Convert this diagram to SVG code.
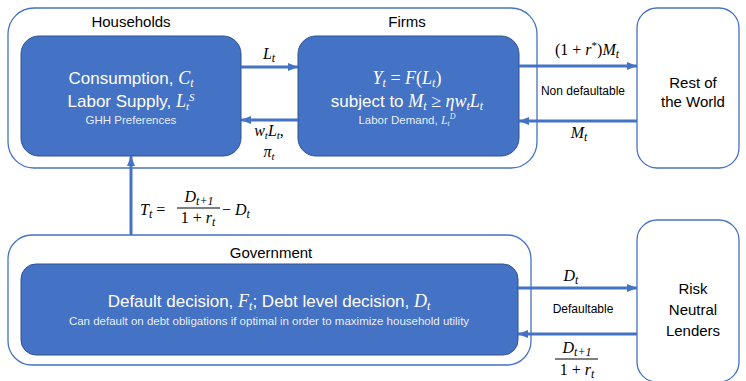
<svg xmlns="http://www.w3.org/2000/svg" width="746" height="381" viewBox="0 0 746 381">
<defs>
<style>
.outer{fill:#fff;stroke:#4472C4;stroke-width:1.3}
.inner{fill:#4472C4;stroke:#2F528F;stroke-width:1}
.conn{stroke:#4472C4;stroke-width:3;fill:none}
.t{font-family:"Liberation Sans",Arial,sans-serif;fill:#000}
.w{font-family:"Liberation Sans",Arial,sans-serif;fill:#fff}
.m{font-family:"Liberation Serif","Times New Roman",serif;font-style:italic}
.n{font-family:"Liberation Serif","Times New Roman",serif;font-style:normal}
</style>
<marker id="ah" markerWidth="10" markerHeight="8" refX="10" refY="4" orient="auto" markerUnits="userSpaceOnUse">
<path d="M0,0 L10,4 L0,8 z" fill="#4472C4"/>
</marker>
</defs>
<rect width="746" height="381" fill="#fff"/>

<g id="households-firms-outer">
<rect class="outer" x="8" y="8" width="529" height="160" rx="26"/>
</g>
<g id="households">
<text class="t" x="131" y="27" font-size="15" text-anchor="middle">Households</text>
<rect class="inner" x="21" y="36" width="220" height="120" rx="18"/>
<text class="w" x="131" y="84" font-size="17" text-anchor="middle">Consumption, <tspan class="m" font-size="18">C</tspan><tspan class="m" font-size="12" dy="3">t</tspan></text>
<text class="w" x="131" y="107" font-size="17" text-anchor="middle">Labor Supply, <tspan class="m" font-size="18">L</tspan><tspan class="m" font-size="11" dy="3">t</tspan><tspan class="m" font-size="11" dy="-9">S</tspan></text>
<text class="w" x="131" y="124" font-size="11.5" text-anchor="middle" fill-opacity="0.9">GHH Preferences</text>
</g>
<g id="firms">
<text class="t" x="407" y="27" font-size="15" text-anchor="middle">Firms</text>
<rect class="inner" x="298" y="36" width="221" height="120" rx="18"/>
<text class="w m" x="407" y="84" font-size="18" text-anchor="middle">Y<tspan font-size="12" dy="3">t</tspan><tspan class="n" dy="-3"> = </tspan>F<tspan class="n">(</tspan>L<tspan font-size="12" dy="3">t</tspan><tspan class="n" dy="-3">)</tspan></text>
<text class="w" x="407" y="107" font-size="17" text-anchor="middle">subject to <tspan class="m" font-size="18">M</tspan><tspan class="m" font-size="12" dy="3">t</tspan><tspan class="n" font-size="18" dy="-3"> ≥ </tspan><tspan class="m" font-size="18">ηw</tspan><tspan class="m" font-size="12" dy="3">t</tspan><tspan class="m" font-size="18" dy="-3">L</tspan><tspan class="m" font-size="12" dy="3">t</tspan></text>
<text class="w" x="407" y="124" font-size="11.5" text-anchor="middle" fill-opacity="0.9">Labor Demand, <tspan class="m" font-size="12">L</tspan><tspan class="m" font-size="8" dy="2">t</tspan><tspan class="m" font-size="8" dy="-7">D</tspan></text>
</g>
<g id="rest-of-world">
<rect class="outer" x="637" y="8" width="102" height="160" rx="20"/>
<text class="t" x="693" y="88" font-size="15" text-anchor="middle">Rest of</text>
<text class="t" x="693" y="107" font-size="15" text-anchor="middle">the World</text>
</g>
<g id="government">
<rect class="outer" x="8" y="235" width="523" height="130" rx="24"/>
<text class="t" x="271" y="258" font-size="15" text-anchor="middle">Government</text>
<rect class="inner" x="21" y="264" width="497" height="91" rx="15"/>
<text class="w" x="269" y="307" font-size="17" text-anchor="middle">Default decision, <tspan class="m" font-size="18">F</tspan><tspan class="m" font-size="12" dy="3">t</tspan><tspan dy="-3">; Debt level decision, </tspan><tspan class="m" font-size="18">D</tspan><tspan class="m" font-size="12" dy="3">t</tspan></text>
<text class="w" x="269" y="325" font-size="11.5" text-anchor="middle" fill-opacity="0.9">Can default on debt obligations if optimal in order to maximize household utility</text>
</g>
<g id="risk-neutral-lenders">
<rect class="outer" x="637" y="220" width="102" height="162" rx="20"/>
<text class="t" x="693" y="294" font-size="15" text-anchor="middle">Risk</text>
<text class="t" x="693" y="315" font-size="15" text-anchor="middle">Neutral</text>
<text class="t" x="693" y="336" font-size="15" text-anchor="middle">Lenders</text>
</g>

<g id="connectors">
<line class="conn" x1="241" y1="67" x2="298" y2="67" marker-end="url(#ah)"/>
<line class="conn" x1="298" y1="120" x2="241" y2="120" marker-end="url(#ah)"/>
<line class="conn" x1="519" y1="66" x2="637" y2="66" marker-end="url(#ah)"/>
<line class="conn" x1="637" y1="121" x2="519" y2="121" marker-end="url(#ah)"/>
<line class="conn" x1="131" y1="235" x2="131" y2="156" marker-end="url(#ah)"/>
<line class="conn" x1="518" y1="288" x2="637" y2="288" marker-end="url(#ah)"/>
<line class="conn" x1="637" y1="334" x2="518" y2="334" marker-end="url(#ah)"/>

<text class="m" x="269" y="59" font-size="16" text-anchor="middle">L<tspan font-size="12" dy="3">t</tspan></text>
<text class="m" x="269" y="136" font-size="16" text-anchor="middle">w<tspan font-size="11" dy="3">t</tspan><tspan dy="-3">L</tspan><tspan font-size="11" dy="3">t</tspan><tspan class="n" dy="-3">,</tspan></text>
<text class="m" x="269" y="157" font-size="16" text-anchor="middle">π<tspan font-size="11" dy="3">t</tspan></text>

<text class="m" x="587" y="55" font-size="16" text-anchor="middle"><tspan class="n">(1 + </tspan>r<tspan class="n" font-size="11" dy="-6">*</tspan><tspan class="n" dy="6">)</tspan>M<tspan font-size="12" dy="3">t</tspan></text>
<text class="t" x="583" y="95" font-size="12" text-anchor="middle">Non defaultable</text>
<text class="m" x="579" y="138" font-size="16" text-anchor="middle">M<tspan font-size="12" dy="3">t</tspan></text>

<text class="m" x="140" y="215" font-size="16">T<tspan font-size="12" dy="3">t</tspan><tspan class="n" dy="-3"> =</tspan></text>
<text class="m" x="199" y="202" font-size="16" text-anchor="middle">D<tspan font-size="12" dy="3">t+1</tspan></text>
<line x1="177" y1="208" x2="220" y2="208" stroke="#000" stroke-width="1"/>
<text class="m" x="198" y="223" font-size="16" text-anchor="middle"><tspan class="n">1 + </tspan>r<tspan font-size="12" dy="3">t</tspan></text>
<text class="m" x="222" y="215" font-size="16"><tspan class="n">− </tspan>D<tspan font-size="12" dy="3">t</tspan></text>

<text class="m" x="571" y="281" font-size="16" text-anchor="middle">D<tspan font-size="12" dy="3">t</tspan></text>
<text class="t" x="583" y="313" font-size="12" text-anchor="middle">Defaultable</text>
<text class="m" x="577" y="353" font-size="16" text-anchor="middle">D<tspan font-size="12" dy="3">t+1</tspan></text>
<line x1="555" y1="359" x2="598" y2="359" stroke="#000" stroke-width="1"/>
<text class="m" x="577" y="375" font-size="16" text-anchor="middle"><tspan class="n">1 + </tspan>r<tspan font-size="12" dy="3">t</tspan></text>
</g>
</svg>
